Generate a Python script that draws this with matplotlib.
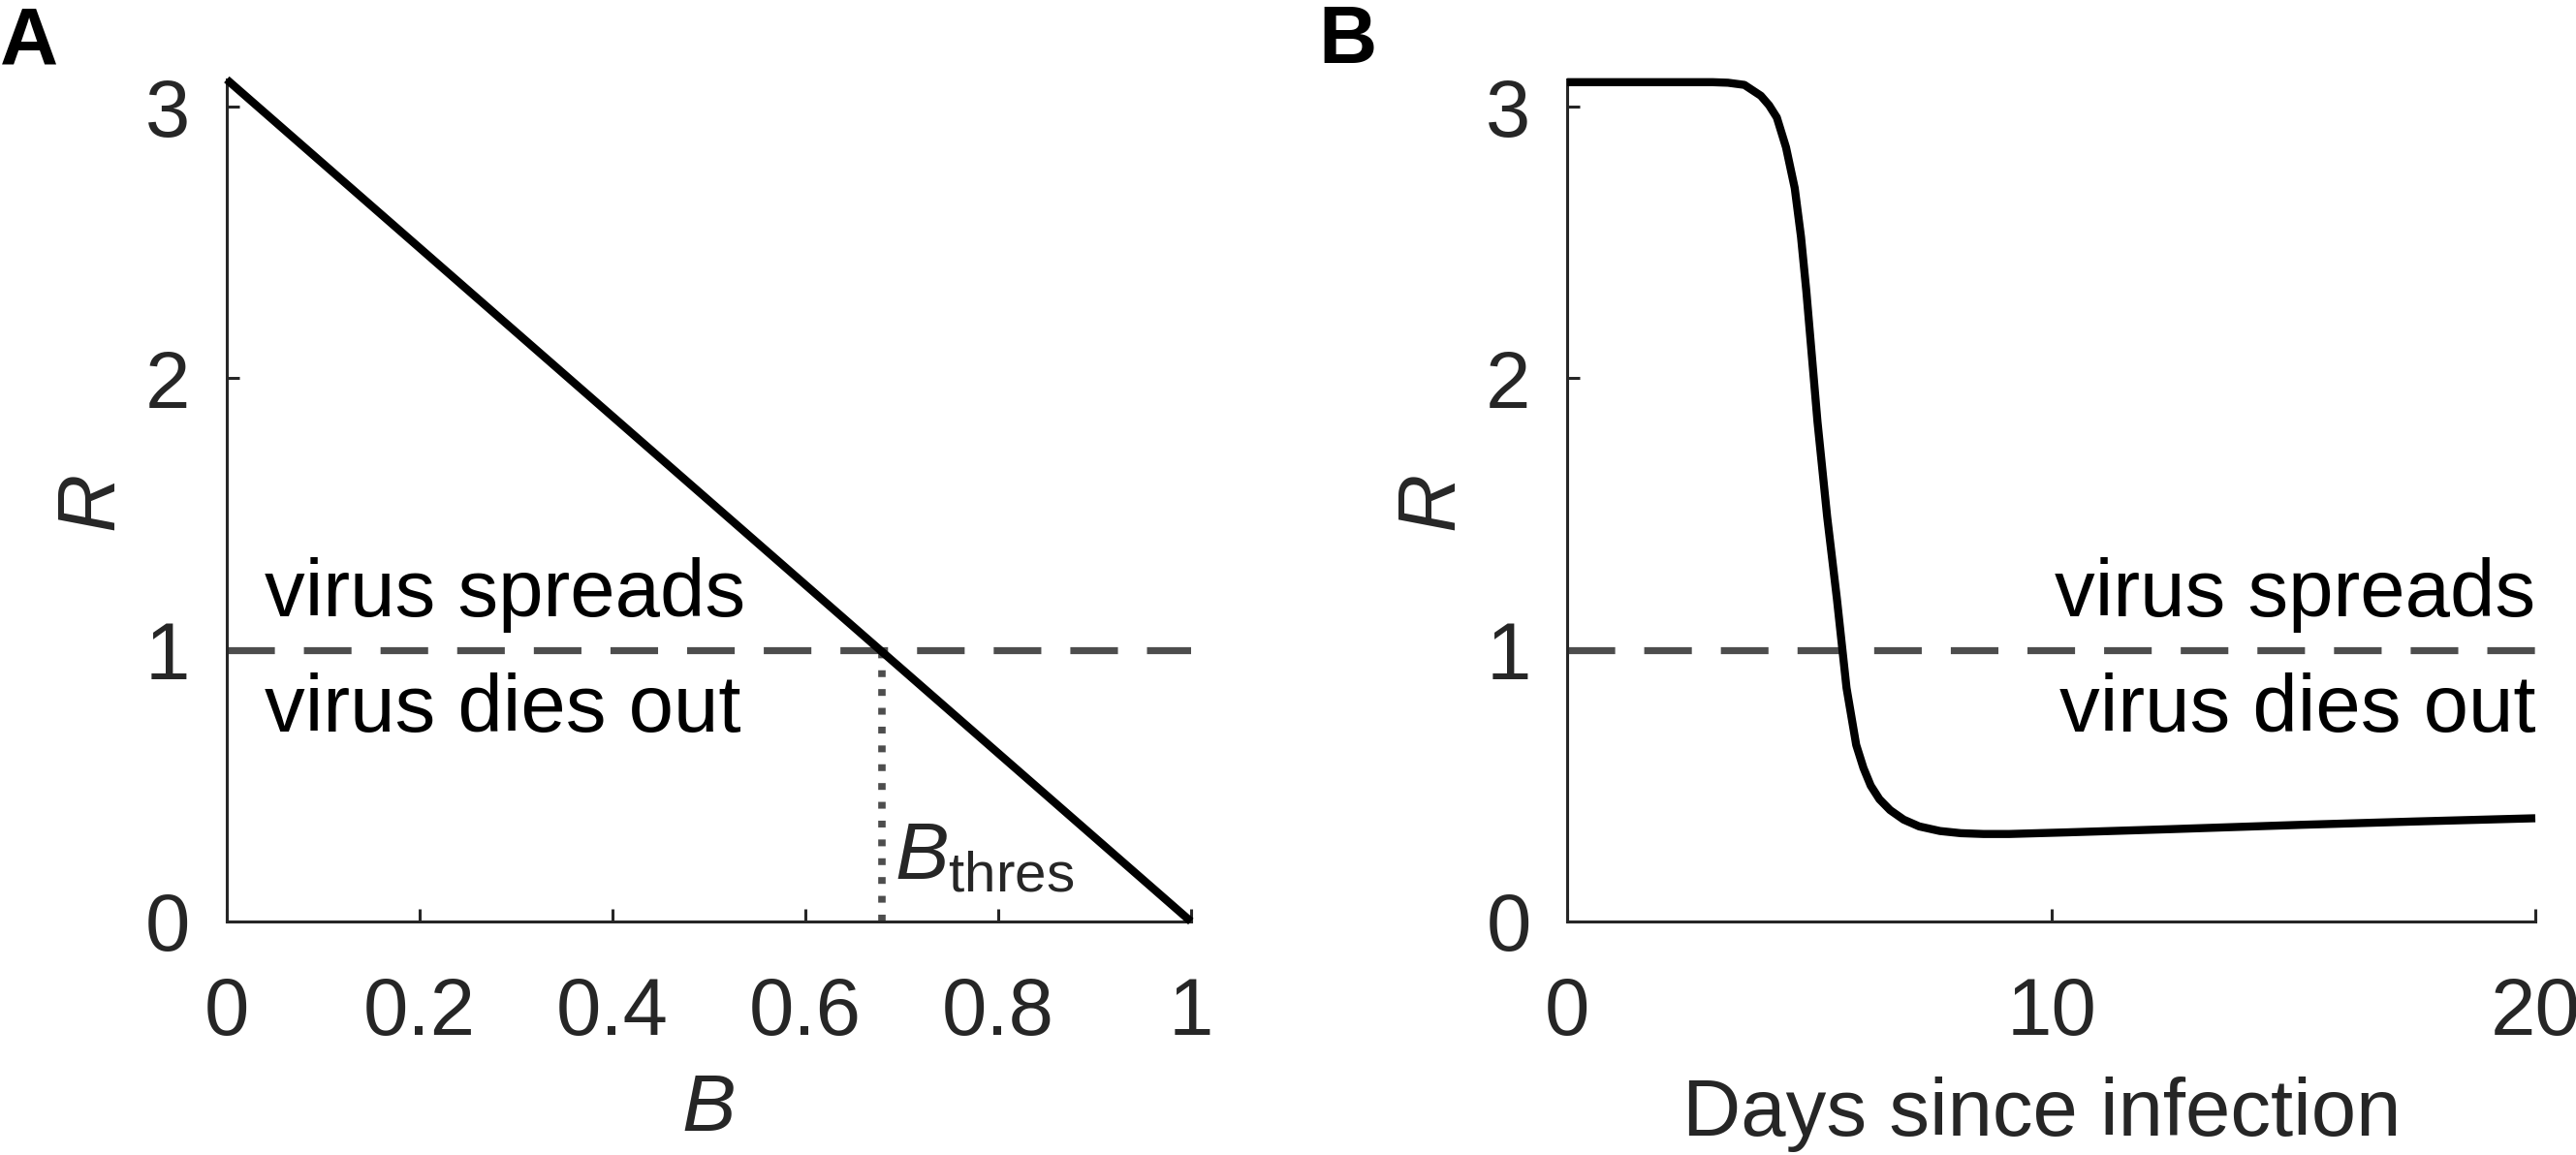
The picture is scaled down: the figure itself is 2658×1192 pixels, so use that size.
import matplotlib
matplotlib.use("Agg")
import matplotlib.pyplot as plt

plt.rcParams['font.family'] = ['Liberation Sans', 'DejaVu Sans']
plt.rcParams['mathtext.fontset'] = 'custom'
plt.rcParams['mathtext.rm'] = 'Liberation Sans'
plt.rcParams['mathtext.it'] = 'Liberation Sans:italic'

# Panel A: R as a function of B (straight line from R0 to 0)
b_vals = [0, 1]
r_vals_a = [3.1, 0]
b_thres = 0.68
a_xticks = [0, 0.2, 0.4, 0.6, 0.8, 1]
a_xticklabels = ['0', '0.2', '0.4', '0.6', '0.8', '1']

# Panel B: R over days since infection
days = [0, 2, 3.0, 3.32, 3.66, 4.0, 4.17, 4.33, 4.52, 4.70, 4.83, 4.94, 5.17,
        5.37, 5.57, 5.77, 5.97, 6.12, 6.27, 6.45, 6.67, 6.95, 7.27, 7.7, 8.13,
        8.6, 9.13, 10.33, 12.5, 15.2, 17.5, 20]
r_vals_b = [3.09, 3.09, 3.09, 3.088, 3.08, 3.04, 3.005, 2.96, 2.85, 2.70, 2.52,
            2.32, 1.84, 1.49, 1.19, 0.86, 0.65, 0.565, 0.50, 0.45, 0.41, 0.375,
            0.35, 0.333, 0.325, 0.322, 0.322, 0.328, 0.340, 0.356, 0.368, 0.38]
b_xticks = [0, 10, 20]

yticks = [0, 1, 2, 3]
r_crit = 1

dark = '#262626'
fs = 60

fig = plt.figure(figsize=(26.58, 11.92), dpi=100)
axA = fig.add_axes([0.088, 0.2022, 0.3743, 0.729])
axB = fig.add_axes([0.6084, 0.2022, 0.3758, 0.729])


def style(ax):
    for s in ['top', 'right']:
        ax.spines[s].set_visible(False)
    for s in ['left', 'bottom']:
        ax.spines[s].set_linewidth(2.2)
        ax.spines[s].set_color(dark)
    ax.tick_params(direction='in', length=9.5, width=2.2, color=dark,
                   labelsize=fs, labelcolor=dark)
    ax.tick_params(axis='x', pad=40)
    ax.tick_params(axis='y', pad=27)
    ax.set_yticks(yticks)
    ax.set_ylim(0, 3.1)
    ax.set_ylabel('R', fontsize=fs, fontstyle='italic', color=dark)
    ax.yaxis.set_label_coords(-0.1005, 0.5)


# ---- Panel A
style(axA)
axA.plot(b_vals, r_vals_a, color='k', lw=6, solid_capstyle='butt', clip_on=False, zorder=3)
axA.plot([0, 1], [r_crit, r_crit], color='#4d4d4d', lw=5.2, linestyle=(0, (6.8, 4.15)))
axA.plot([b_thres, b_thres], [0, r_crit], color='#4d4d4d', lw=5.5,
         linestyle=(0, (0.92, 1.62)), dash_capstyle='butt')
axA.set_xlim(0, 1)
axA.set_xticks(a_xticks)
axA.set_xticklabels(a_xticklabels)
axA.set_xlabel('B', fontsize=fs, fontstyle='italic', color=dark)
axA.xaxis.set_label_coords(0.5, -0.178)
axA.text(0.039, 1.125, 'virus spreads', fontsize=fs, color='k', ha='left', va='baseline')
axA.text(0.039, 0.70, 'virus dies out', fontsize=fs, color='k', ha='left', va='baseline')
axA.text(b_thres + 0.013, 0.157, r'$B_{\mathrm{thres}}$', fontsize=fs, color=dark,
         ha='left', va='baseline')

# ---- Panel B
style(axB)
axB.plot(days, r_vals_b, color='k', lw=6, solid_capstyle='butt', solid_joinstyle='round',
         clip_on=False, zorder=3)
axB.plot([0, 20], [r_crit, r_crit], color='#4d4d4d', lw=5.2, linestyle=(0, (6.8, 4.15)))
axB.set_xlim(0, 20)
axB.set_xticks(b_xticks)
axB.set_xlabel('Days since infection', fontsize=fs, color=dark)
axB.xaxis.set_label_coords(0.49, -0.184)
axB.text(20, 1.125, 'virus spreads', fontsize=fs, color='k', ha='right', va='baseline')
axB.text(20, 0.70, 'virus dies out', fontsize=fs, color='k', ha='right', va='baseline')

# panel letters
fig.text(0.0, 1 - 5 / 1192, 'A', fontsize=60, fontweight='bold', color='k', ha='left', va='top')
fig.text(1360 / 2658, 1 - 4 / 1192, 'B', fontsize=60, fontweight='bold', color='k', ha='left', va='top')

fig.savefig('out.png', dpi=100)
